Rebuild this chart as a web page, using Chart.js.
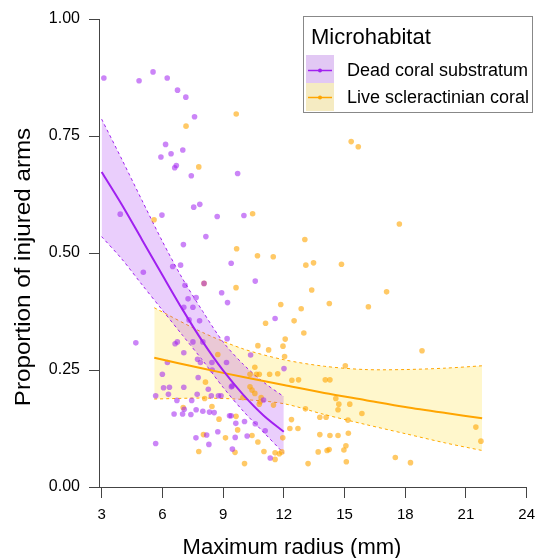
<!DOCTYPE html>
<html>
<head>
<meta charset="utf-8">
<script src="https://cdn.jsdelivr.net/npm/chart.js@4.4.1/dist/chart.umd.min.js"></script>
<style>
  html, body { margin: 0; padding: 0; background: #fff; }
</style>
</head>
<body>
<canvas id="chart" width="543" height="558"></canvas>
<script>
// tick labels and titles
const xTicks = [3, 6, 9, 12, 15, 18, 21, 24];
const yTicks = [0, 0.25, 0.5, 0.75, 1];
const xTitle = 'Maximum radius (mm)';
const yTitle = 'Proportion of injured arms';
const legendTitle = 'Microhabitat';
const groups = ['Dead coral substratum', 'Live scleractinian coral'];

// dead coral substratum observations
const deadX = [3.11, 4.85, 5.54, 6.24, 6.75, 7.16, 7.59, 6.16, 5.93, 6.43, 7.01, 6.69, 6.61, 7.43, 9.72, 7.55, 7.85, 3.92, 5.98, 8.71,
  8.15, 7.04, 5.06, 6.51, 6.90, 9.40, 7.12, 8.06, 8.93, 9.22, 7.27, 7.67, 7.06, 7.51, 7.32, 7.84, 9.20, 4.69, 6.63, 6.74,
  7.51, 8.00, 7.06, 6.25, 7.74, 7.88, 8.45, 9.17, 6.00, 7.77, 8.46, 8.27, 6.06, 6.35, 7.06, 5.67, 6.30, 7.72, 8.42, 8.77,
  8.90, 9.45, 6.72, 7.45, 7.08, 7.67, 8.00, 8.33, 8.56, 6.58, 7.00, 7.41, 9.32, 9.40, 9.63, 8.74, 8.19, 7.66, 9.60, 5.67,
  8.30, 9.46, 10.03, 10.59, 11.57, 10.36, 12.01, 9.41, 11.00, 10.06, 10.59, 10.19, 11.08, 11.33];
const deadY = [0.874, 0.868, 0.887, 0.874, 0.848, 0.833, 0.791, 0.732, 0.705, 0.712, 0.720, 0.687, 0.682, 0.665, 0.670, 0.598, 0.604, 0.583, 0.581, 0.578,
  0.535, 0.518, 0.459, 0.471, 0.474, 0.478, 0.431, 0.435, 0.415, 0.394, 0.402, 0.405, 0.384, 0.384, 0.357, 0.355, 0.317, 0.308, 0.306, 0.310,
  0.310, 0.310, 0.287, 0.266, 0.273, 0.266, 0.266, 0.266, 0.241, 0.234, 0.250, 0.209, 0.212, 0.213, 0.213, 0.195, 0.198, 0.198, 0.195, 0.195,
  0.195, 0.216, 0.185, 0.185, 0.166, 0.165, 0.162, 0.160, 0.159, 0.156, 0.156, 0.155, 0.152, 0.152, 0.136, 0.118, 0.111, 0.105, 0.106, 0.093,
  0.091, 0.081, 0.580, 0.440, 0.360, 0.282, 0.253, 0.214, 0.186, 0.140, 0.135, 0.109, 0.120, 0.062];

// live scleractinian coral observations
const liveX = [9.65, 7.17, 7.80, 5.59, 9.67, 9.64, 8.74, 8.13, 8.09, 8.45, 7.03, 8.06, 8.80, 9.64, 9.72, 8.03, 9.12, 7.80, 9.59, 15.33,
  15.68, 10.46, 13.04, 10.70, 11.48, 13.09, 13.47, 14.85, 13.38, 11.85, 12.86, 14.25, 16.18, 11.10, 12.51, 12.99, 12.07, 10.72, 11.25, 11.96,
  12.04, 10.57, 10.33, 10.65, 10.79, 11.30, 11.70, 12.40, 12.73, 14.05, 14.28, 15.04, 10.33, 10.43, 10.57, 9.98, 10.88, 10.79, 11.49, 14.57,
  14.72, 15.26, 14.68, 13.07, 15.86, 13.78, 14.09, 15.17, 12.38, 12.30, 12.70, 11.95, 13.78, 14.28, 14.68, 15.19, 10.43, 10.72, 15.07, 14.97,
  13.70, 14.14, 14.24, 11.02, 11.57, 11.78, 11.90, 11.57, 15.09, 13.20, 10.06, 17.71, 17.08, 18.83, 21.49, 21.74, 17.51, 18.26, 10.83];
const liveY = [0.797, 0.771, 0.684, 0.571, 0.509, 0.426, 0.283, 0.224, 0.189, 0.172, 0.170, 0.435, 0.145, 0.151, 0.122, 0.112, 0.105, 0.076, 0.074, 0.738,
  0.727, 0.584, 0.529, 0.494, 0.492, 0.474, 0.479, 0.476, 0.421, 0.390, 0.381, 0.392, 0.385, 0.350, 0.355, 0.329, 0.316, 0.302, 0.293, 0.301,
  0.279, 0.256, 0.241, 0.241, 0.241, 0.241, 0.242, 0.228, 0.229, 0.229, 0.229, 0.259, 0.214, 0.207, 0.200, 0.191, 0.191, 0.177, 0.175, 0.189,
  0.177, 0.177, 0.165, 0.167, 0.157, 0.149, 0.149, 0.143, 0.144, 0.125, 0.125, 0.105, 0.112, 0.110, 0.110, 0.115, 0.110, 0.096, 0.088, 0.079,
  0.075, 0.078, 0.080, 0.076, 0.073, 0.071, 0.075, 0.059, 0.054, 0.050, 0.050, 0.562, 0.417, 0.291, 0.128, 0.098, 0.063, 0.052, 0.182];

// fitted curves with confidence bands
const deadFitX = [3, 4, 5, 6, 7, 8, 9, 10, 11, 12];
const deadFit = [0.673, 0.603, 0.528, 0.453, 0.379, 0.310, 0.249, 0.197, 0.153, 0.118];
const deadLo = [0.535, 0.487, 0.432, 0.378, 0.324, 0.270, 0.213, 0.162, 0.117, 0.072];
const deadHi = [0.786, 0.700, 0.612, 0.525, 0.445, 0.375, 0.310, 0.262, 0.224, 0.193];

const liveFitX = [5.6, 8, 10, 12, 14, 16, 18, 20, 21.8];
const liveFit = [0.276, 0.253, 0.235, 0.218, 0.201, 0.186, 0.171, 0.158, 0.147];
const liveLo = [0.188, 0.190, 0.187, 0.178, 0.155, 0.134, 0.114, 0.094, 0.078];
const liveHi = [0.383, 0.330, 0.295, 0.272, 0.258, 0.251, 0.251, 0.254, 0.259];

const FONT = "'Liberation Sans', Arial, Helvetica, sans-serif";
const PURPLE = '#a020f0';
const ORANGE = '#ffa500';

function pts(xs, ys) {
  return xs.map((x, i) => ({ x: x, y: ys[i] }));
}

function band(xs, ys, color, fill, fillColor) {
  return {
    type: 'line',
    data: pts(xs, ys),
    borderColor: color,
    borderWidth: 1,
    borderDash: [3, 3],
    pointRadius: 0,
    tension: 0.3,
    fill: fill,
    backgroundColor: fillColor,
    order: 3
  };
}

function fitLine(xs, ys, color) {
  return {
    type: 'line',
    data: pts(xs, ys),
    borderColor: color,
    borderWidth: 2,
    pointRadius: 0,
    tension: 0.3,
    fill: false,
    order: 1
  };
}

// axis titles, placed like the R original
const axisTitles = {
  id: 'axisTitles',
  afterDraw(chart) {
    const ctx = chart.ctx;
    ctx.save();
    ctx.fillStyle = '#000';
    ctx.font = '22px ' + FONT;
    ctx.textAlign = 'center';
    ctx.textBaseline = 'alphabetic';
    ctx.fillText(xTitle, 292, 554);
    ctx.translate(29.5, 267);
    ctx.rotate(-Math.PI / 2);
    ctx.scale(1.1, 1);
    ctx.fillText(yTitle, 0, 0);
    ctx.restore();
  }
};

// R-style legend box in the top right corner
const legendBox = {
  id: 'legendBox',
  afterDraw(chart) {
    const ctx = chart.ctx;
    ctx.save();
    ctx.fillStyle = '#fff';
    ctx.fillRect(303, 17, 230, 95);
    ctx.fillStyle = '#e2c8f4';
    ctx.fillRect(306, 55, 28, 28);
    ctx.fillStyle = '#f5ebc2';
    ctx.fillRect(306, 83, 28, 28);
    ctx.strokeStyle = '#888';
    ctx.lineWidth = 1;
    ctx.strokeRect(303.5, 16.5, 229, 96);

    const keys = [[PURPLE, 70.5], [ORANGE, 97.5]];
    keys.forEach((k, i) => {
      ctx.strokeStyle = k[0];
      ctx.lineWidth = 1.5;
      ctx.beginPath();
      ctx.moveTo(308, k[1]);
      ctx.lineTo(332, k[1]);
      ctx.stroke();
      ctx.fillStyle = k[0];
      ctx.beginPath();
      ctx.arc(320, k[1], 2, 0, Math.PI * 2);
      ctx.fill();
      ctx.fillStyle = '#000';
      ctx.font = '18px ' + FONT;
      ctx.textBaseline = 'middle';
      ctx.fillText(groups[i], 347, k[1] + 1);
    });
    ctx.font = '22px ' + FONT;
    ctx.textBaseline = 'alphabetic';
    ctx.fillStyle = '#000';
    ctx.fillText(legendTitle, 311, 44);
    ctx.restore();
  }
};

new Chart(document.getElementById('chart'), {
  type: 'scatter',
  data: {
    datasets: [
      band(deadFitX, deadHi, PURPLE, '+1', 'rgba(160, 32, 240, 0.22)'),
      band(deadFitX, deadLo, PURPLE, false, 'transparent'),
      band(liveFitX, liveHi, ORANGE, '+1', 'rgba(255, 215, 0, 0.2)'),
      band(liveFitX, liveLo, ORANGE, false, 'transparent'),
      {
        data: pts(deadX, deadY),
        backgroundColor: 'rgba(160, 32, 240, 0.55)',
        borderWidth: 0,
        pointRadius: 2.8,
        order: 2
      },
      {
        data: pts(liveX, liveY),
        backgroundColor: 'rgba(255, 165, 0, 0.6)',
        borderWidth: 0,
        pointRadius: 2.8,
        order: 2
      },
      fitLine(deadFitX, deadFit, PURPLE),
      fitLine(liveFitX, liveFit, ORANGE)
    ]
  },
  options: {
    responsive: false,
    animation: false,
    layout: { padding: { top: 19, right: 7, left: 0, bottom: 0 } },
    plugins: {
      legend: { display: false },
      tooltip: { enabled: false }
    },
    scales: {
      x: {
        type: 'linear',
        min: 2.87,
        max: 24,
        afterBuildTicks: s => { s.ticks = xTicks.map(v => ({ value: v })); },
        afterFit: s => { s.height = 71; },
        grid: { drawOnChartArea: false, tickLength: 11, color: '#444' },
        border: { color: '#444', width: 1 },
        ticks: { color: '#000', padding: 8, maxRotation: 0, autoSkip: false, font: { family: FONT, size: 15 } },
        title: { display: false }
      },
      y: {
        min: 0,
        max: 1,
        afterBuildTicks: s => { s.ticks = yTicks.map(v => ({ value: v })); },
        afterFit: s => { s.width = 99; },
        grid: { drawOnChartArea: false, tickLength: 10, color: '#444' },
        border: { color: '#444', width: 1 },
        ticks: { color: '#000', padding: 9, font: { family: FONT, size: 16 }, callback: v => v.toFixed(2) },
        title: { display: false }
      }
    }
  },
  plugins: [axisTitles, legendBox]
});
</script>
</body>
</html>
